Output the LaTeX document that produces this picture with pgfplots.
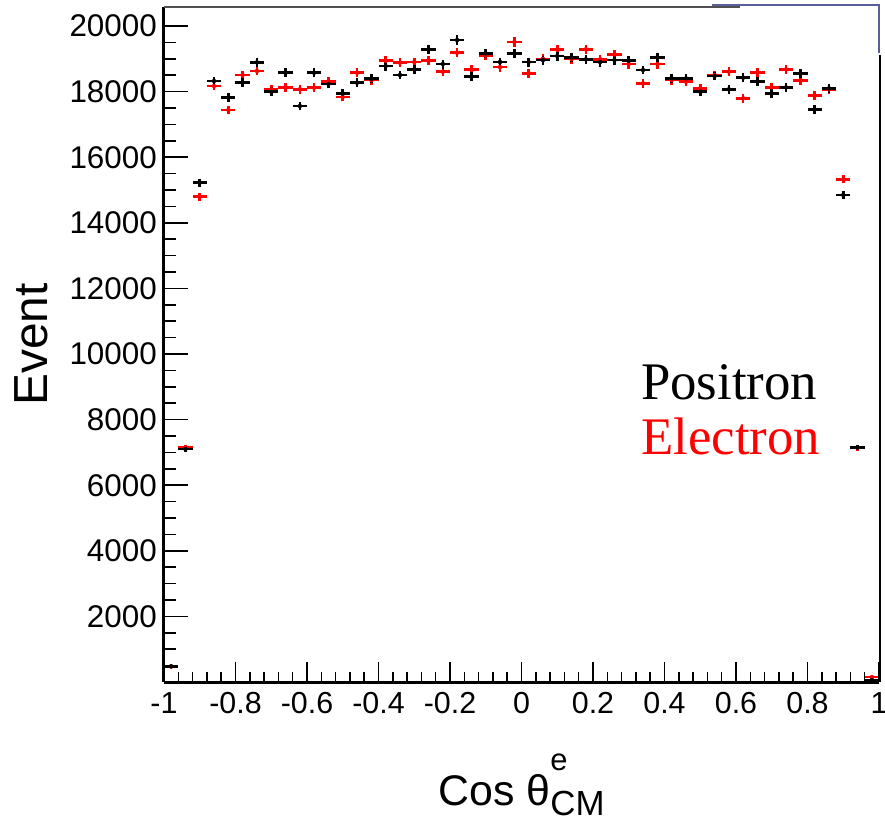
\documentclass[border=0pt]{standalone}
\usepackage{pgfplots}
\usepackage{pgfplotstable}
\pgfplotsset{compat=1.18}
\usepackage{fontspec}
\setmainfont{Liberation Sans}
\newfontfamily\seriffont{Liberation Serif}
\definecolor{frameblue}{RGB}{90,95,155}
\definecolor{framegray}{RGB}{80,80,80}

\pgfplotstableread{
x     p      ep   e      ee
-0.98 480    22   470    22
-0.94 7100   84   7150   85
-0.90 15223  123  14796  122
-0.86 18323  135  18171  135
-0.82 17815  133  17439  132
-0.78 18280  135  18506  136
-0.74 18893  137  18628  136
-0.70 17998  134  18070  134
-0.66 18577  136  18130  135
-0.62 17561  133  18070  134
-0.58 18577  136  18120  135
-0.54 18232  135  18302  135
-0.50 17947  134  17835  134
-0.46 18272  135  18577  136
-0.42 18394  136  18350  135
-0.38 18780  137  18943  138
-0.34 18506  136  18882  137
-0.30 18679  137  18902  137
-0.26 19289  139  18943  138
-0.22 18841  137  18608  136
-0.18 19573  140  19187  139
-0.14 18455  136  18679  137
-0.10 19167  138  19100  138
-0.06 18902  137  18750  137
-0.02 19167  138  19512  140
0.02  18902  137  18557  136
0.06  18963  138  19000  138
0.10  19085  138  19289  139
0.14  19045  138  18990  138
0.18  18984  138  19289  139
0.22  18902  137  18984  138
0.26  18963  138  19136  138
0.30  18943  138  18841  137
0.34  18659  137  18252  135
0.38  19045  138  18841  137
0.42  18404  136  18350  135
0.46  18404  136  18300  135
0.50  17998  134  18100  135
0.54  18476  136  18506  136
0.58  18070  134  18608  136
0.62  18425  136  17795  133
0.66  18302  135  18577  136
0.70  17947  134  18130  135
0.74  18130  135  18679  137
0.78  18557  136  18333  135
0.82  17459  132  17876  134
0.86  18100  135  18070  134
0.90  14848  122  15325  124
0.94  7150   85   7140   85
0.98  60     8    150    12
}\datatable

\begin{document}
\begin{tikzpicture}
\begin{axis}[
  scale only axis, width=715bp, height=675bp,
  xmin=-1, xmax=1, ymin=0, ymax=20580,
  clip=false,
  axis line style={draw=none},
  tick pos=left, tick align=inside,
  major tick length=24bp, minor tick length=12bp,
  xtick={-1,-0.8,-0.6,-0.4,-0.2,0,0.2,0.4,0.6,0.8,1},
  xticklabels={-1,-0.8,-0.6,-0.4,-0.2,0,0.2,0.4,0.6,0.8,1},
  xtick style={draw=none},
  ytick={0,2000,4000,6000,8000,10000,12000,14000,16000,18000,20000},
  yticklabels={{},2000,4000,6000,8000,10000,12000,14000,16000,18000,20000},
  minor y tick num=3,
  ytick style={black, line width=1.5bp},
  minor y tick style={black, line width=1.5bp},
  yticklabel style={inner sep=0pt, xshift=-7bp, font=\fontsize{31.5}{36}\selectfont},
  xticklabel style={inner sep=0pt, yshift=-10bp, font=\fontsize{30.5}{36}\selectfont},
  ylabel={Event},
  ylabel style={at={([xshift=-133bp]axis description cs:0,0.5)}, anchor=center, inner sep=0pt, font=\fontsize{48}{54}\selectfont},
  xlabel={Cos θ\makebox[0pt][l]{\raisebox{35bp}{\fontsize{31}{31}\selectfont e}}\raisebox{-10bp}{\fontsize{35}{35}\selectfont CM}},
  xlabel style={at={([yshift=-123bp]axis description cs:0.5,0)}, anchor=base, inner sep=0pt, font=\fontsize{43}{48}\selectfont},
]
\addplot[only marks, mark=none, red,
  error bars/.cd, x dir=both, x fixed=0.02, y dir=both, y explicit,
  error mark=none, error bar style={draw=red, solid, line width=2.6bp, line cap=butt}]
  table[x=x, y=e, y error=ee] {\datatable};
\addplot[only marks, mark=none, black,
  error bars/.cd, x dir=both, x fixed=0.02, y dir=both, y explicit,
  error mark=none, error bar style={draw=black, solid, line width=2.6bp, line cap=butt}]
  table[x=x, y=p, y error=ep] {\datatable};

\draw[black, line width=3bp] (axis description cs:0,0) -- (axis description cs:0,1);
\draw[black, line width=3bp] (axis description cs:0,0) -- (axis description cs:1,0);
\draw[framegray, line width=2bp] (axis description cs:0,1) -- (axis description cs:0.806,1);
\draw[frameblue, line width=2bp] ([yshift=1.5bp]axis description cs:0.766,1) -- ([yshift=1.5bp]axis description cs:1,1) -- ([yshift=-46bp]axis description cs:1,1);
\draw[black, line width=2bp] ([xshift=1bp,yshift=-48bp]axis description cs:1,1) -- ([xshift=1bp]axis description cs:1,0);

\node[anchor=base west, inner sep=0pt, font=\seriffont\fontsize{53}{60}\selectfont] at ([xshift=477bp,yshift=282bp]axis description cs:0,0) {Positron};
\node[anchor=base west, inner sep=0pt, red, font=\seriffont\fontsize{53}{60}\selectfont] at ([xshift=477bp,yshift=227bp]axis description cs:0,0) {Electron};
\end{axis}
\begin{axis}[
  scale only axis, width=715bp, height=675bp,
  xmin=-1, xmax=1, ymin=0, ymax=20580,
  axis line style={draw=none},
  tick pos=left, tick align=inside,
  major tick length=20bp, minor tick length=10bp,
  xtick={-1,-0.8,-0.6,-0.4,-0.2,0,0.2,0.4,0.6,0.8,1},
  xticklabels={{},{},{},{},{},{},{},{},{},{},{}},
  minor x tick num=4,
  ytick=\empty,
  xtick style={black, line width=1.5bp},
  minor x tick style={black, line width=1.5bp},
]
\end{axis}
\pgfresetboundingbox
\path (-164bp,-143bp) rectangle (721bp,682bp);
\end{tikzpicture}
\end{document}
